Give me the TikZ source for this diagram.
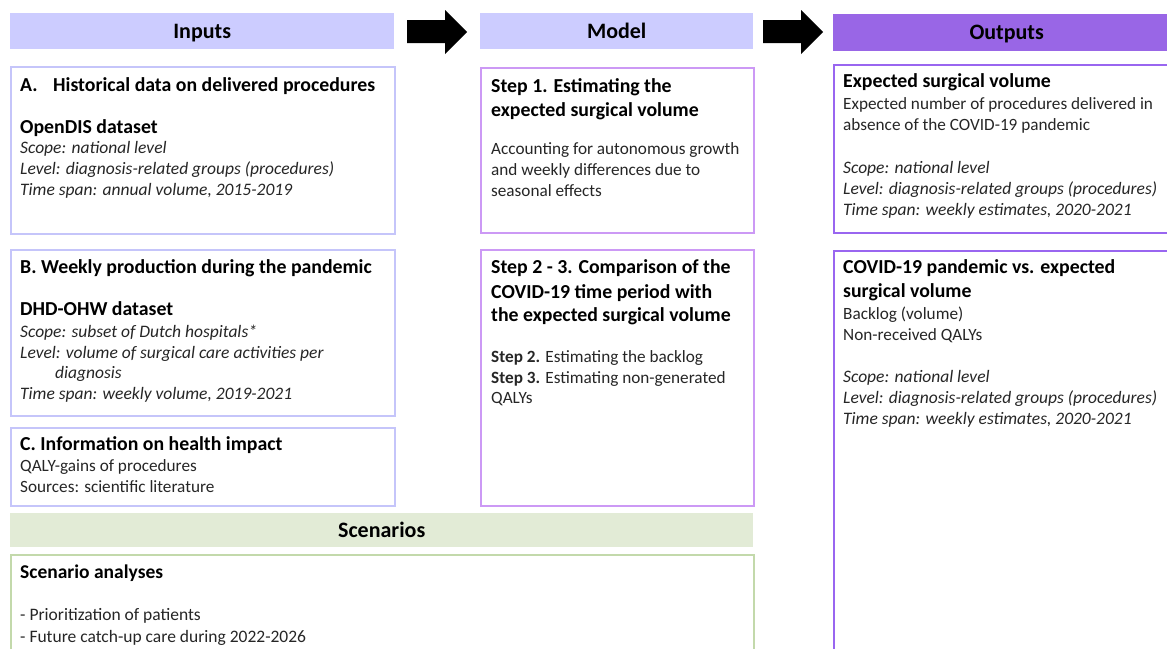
\documentclass[tikz,border=0pt]{standalone}
\usepackage{fontspec}
\setmainfont{Carlito}
\definecolor{inhead}{HTML}{CCCCFF}
\definecolor{inborder}{HTML}{C5C5FA}
\definecolor{modborder}{HTML}{CC99F5}
\definecolor{outhead}{HTML}{9966E6}
\definecolor{outborder}{HTML}{9966F0}
\definecolor{scenhead}{HTML}{E2EBD6}
\definecolor{scenborder}{HTML}{C3D9AB}
\definecolor{txt}{HTML}{262626}
\tikzset{
  hdr/.style={anchor=north west, inner sep=0pt, draw=none, text=black,
    font=\fontsize{22}{26}\selectfont\bfseries, text height=14.5pt, text depth=0pt},
  frame/.style={anchor=north west, inner sep=0pt, fill=white},
  inbox/.style={frame, draw=inborder, line width=1.5pt},
  modbox/.style={frame, draw=modborder, line width=2pt},
  outbox/.style={frame, draw=outborder, line width=2pt},
  scenbox/.style={frame, draw=scenborder, line width=1.5pt},
  headt/.style={anchor=base west, inner sep=0pt, text=black,
    font=\fontsize{19.8}{23}\selectfont\bfseries},
  bodyt/.style={anchor=base west, inner sep=0pt, text=txt,
    font=\fontsize{17.2}{20}\selectfont},
  itt/.style={bodyt, font=\fontsize{17.5}{20}\selectfont\itshape},
  blockarrow/.style={fill=black}
}
\begin{document}
\begin{tikzpicture}[x=1pt, y=-1pt]
\useasboundingbox (0,0) rectangle (1167,648);
\clip (0,0) rectangle (1167,648);

% headers
\node[hdr, fill=inhead, minimum width=384pt, minimum height=36pt] (hin) at (10,13) {Inputs};
\node[hdr, fill=inhead, minimum width=273pt, minimum height=36pt] (hmod) at (480,13) {Model};
\node[hdr, fill=outhead, minimum width=347pt, minimum height=37pt] (hout) at (833,14) {Outputs};
\node[hdr, fill=scenhead, minimum width=743pt, minimum height=34pt] (hscen) at (10,513) {Scenarios};

% block arrows
\fill[blockarrow] (407,20) -- (445,20) -- (445,10) -- (467,32) -- (445,54) -- (445,43) -- (407,43) -- cycle;
\fill[blockarrow] (763,20) -- (801,20) -- (801,10) -- (823,32) -- (801,54) -- (801,43) -- (763,43) -- cycle;

% input boxes
\node[inbox, minimum width=384pt, minimum height=167pt] (boxA) at (10,66) {};
\node[inbox, minimum width=384pt, minimum height=166pt] (boxB) at (10,249) {};
\node[inbox, minimum width=384pt, minimum height=78pt] (boxC) at (10,427) {};

% model boxes
\node[modbox, minimum width=273pt, minimum height=165pt] (step1) at (480,67) {};
\node[modbox, minimum width=273pt, minimum height=256pt] (step23) at (480,249) {};

% output boxes
\node[outbox, minimum width=360pt, minimum height=168pt] (out1) at (833,64) {};
\node[outbox, minimum width=360pt, minimum height=450pt] (out2) at (833,250) {};

% scenario box
\node[scenbox, minimum width=743pt, minimum height=150pt] (scen) at (10,554) {};

% Box A text
\node[headt] (a0) at (20,91) {A.};
\node[headt] (a1) at (53,91) {Historical data on delivered procedures};
\node[headt] (a2) at (20,133) {OpenDIS dataset};
\node[itt] (a3) at (20,153) {Scope: national level};
\node[itt] (a4) at (20,174) {Level: diagnosis-related groups (procedures)};
\node[itt] (a5) at (20,195) {Time span: annual volume, 2015-2019};

% Box B text
\node[headt] (b1) at (20,273) {B. Weekly production during the pandemic};
\node[headt] (b2) at (20,315) {DHD-OHW dataset};
\node[itt] (b3) at (20,337) {Scope: subset of Dutch hospitals*};
\node[itt] (b4) at (20,358) {Level: volume of surgical care activities per};
\node[itt] (b5) at (55,378) {diagnosis};
\node[itt] (b6) at (20,399) {Time span: weekly volume, 2019-2021};

% Box C text
\node[headt] (c1) at (20,450) {C. Information on health impact};
\node[bodyt] (c2) at (20,471) {QALY-gains of procedures};
\node[bodyt] (c3) at (20,492) {Sources: scientific literature};

% Step 1 text
\node[headt] (s1) at (491,92) {Step 1. Estimating the};
\node[headt] (s2) at (491,116) {expected surgical volume};
\node[bodyt] (s3) at (491,154) {Accounting for autonomous growth};
\node[bodyt] (s4) at (491,175) {and weekly differences due to};
\node[bodyt] (s5) at (491,196) {seasonal effects};

% Step 2-3 text
\node[headt] (t1) at (491,273) {Step 2 - 3. Comparison of the};
\node[headt] (t2) at (491,298) {COVID-19 time period with};
\node[headt] (t3) at (491,321) {the expected surgical volume};
\node[bodyt] (t4) at (491,362) {\textbf{Step 2.} Estimating the backlog};
\node[bodyt] (t5) at (491,383) {\textbf{Step 3.} Estimating non-generated};
\node[bodyt] (t6) at (491,403) {QALYs};

% Output 1 text
\node[headt] (o1) at (843,87) {Expected surgical volume};
\node[bodyt] (o2) at (843,109) {Expected number of procedures delivered in};
\node[bodyt] (o3) at (843,130) {absence of the COVID-19 pandemic};
\node[itt] (o4) at (843,173) {Scope: national level};
\node[itt] (o5) at (843,194) {Level: diagnosis-related groups (procedures)};
\node[itt] (o6) at (843,215) {Time span: weekly estimates, 2020-2021};

% Output 2 text
\node[headt] (p1) at (843,273) {COVID-19 pandemic vs. expected};
\node[headt] (p2) at (843,297) {surgical volume};
\node[bodyt] (p3) at (843,319) {Backlog (volume)};
\node[bodyt] (p4) at (843,340) {Non-received QALYs};
\node[itt] (p5) at (843,382) {Scope: national level};
\node[itt] (p6) at (843,403) {Level: diagnosis-related groups (procedures)};
\node[itt] (p7) at (843,424) {Time span: weekly estimates, 2020-2021};

% Scenario text
\node[headt, font=\fontsize{19.5}{22}\selectfont\bfseries] (q1) at (20,578) {Scenario analyses};
\node[bodyt, font=\fontsize{17.5}{20}\selectfont] (q2) at (20,620) {- Prioritization of patients};
\node[bodyt, font=\fontsize{17.5}{20}\selectfont] (q3) at (20,642) {- Future catch-up care during 2022-2026};
\end{tikzpicture}
\end{document}
